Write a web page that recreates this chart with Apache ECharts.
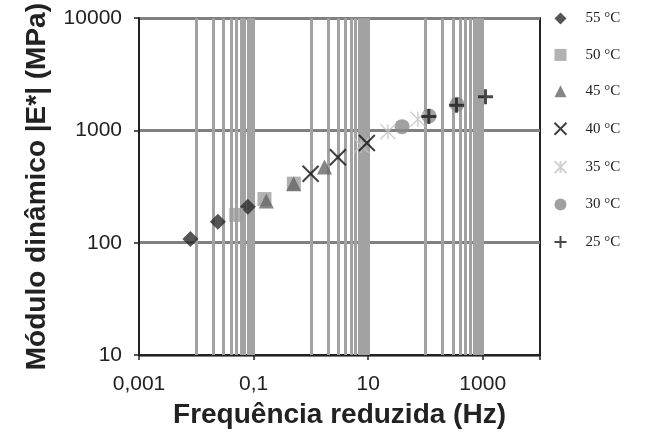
<!DOCTYPE html>
<html>
<head>
<meta charset="utf-8">
<script src="https://cdn.jsdelivr.net/npm/echarts@6/dist/echarts.min.js"></script>
<style>
  html, body { margin: 0; padding: 0; background: #fff; }
  #chart { width: 646px; height: 437px; }
</style>
</head>
<body>
<div id="chart"></div>
<script>
// reduced frequency (Hz) and |E*| (MPa) per test temperature
var names = ['55 °C', '50 °C', '45 °C', '40 °C', '35 °C', '30 °C', '25 °C'];
var freq55 = [0.0079, 0.0238, 0.0794];
var mod55 = [108, 154, 209];
var freq50 = [0.050, 0.155, 0.505];
var mod50 = [177, 245, 336];
var freq45 = [0.167, 0.50, 1.73];
var mod45 = [235, 336, 472];
var freq40 = [0.99, 2.96, 9.49];
var mod40 = [412, 578, 774];
var freq35 = [7.58, 22.1, 73.7];
var mod35 = [734, 976, 1261];
var freq30 = [39.1, 115.6, 356];
var mod30 = [1082, 1346, 1711];
var freq25 = [114.6, 349, 1119];
var mod25 = [1333, 1676, 2000];

// vertical grid lines of the original excel chart
var gridX = [0.01, 0.02, 0.03, 0.04, 0.05, 0.06, 0.07, 0.08, 0.09, 0.1,
             1, 2, 3, 4, 5, 6, 7, 8, 9, 10,
             100, 200, 300, 400, 500, 600, 700, 800, 900, 1000];
var xLabels = {'0.001': '0,001', '0.1': '0,1', '10': '10', '1000': '1000'};

function pairs(xs, ys) {
    var out = [];
    for (var i = 0; i < xs.length; i++) out.push([xs[i], ys[i]]);
    return out;
}

var chart = echarts.init(document.getElementById('chart'));
var font = 'Liberation Sans, Arial, sans-serif';

var option = {
    animation: false,
    textStyle: {fontFamily: font},
    grid: {left: 139, top: 15, width: 401, height: 340, show: true, borderColor: '#222', borderWidth: 2, containLabel: false},
    legend: {
        orient: 'vertical', left: 547, top: 6,
        itemWidth: 12, itemHeight: 12, itemGap: 21.4,
        data: names,
        textStyle: {fontFamily: 'Liberation Serif, Times New Roman, serif', fontSize: 15, color: '#222', padding: [0, 0, 0, 14]}
    },
    xAxis: {
        type: 'log', min: 0.001, max: 10000, interval: 2,
        name: 'Frequência reduzida (Hz)', nameLocation: 'middle', nameGap: 46,
        nameTextStyle: {fontSize: 28, fontWeight: 'bold', color: '#222', fontFamily: font},
        axisLine: {lineStyle: {color: '#222', width: 2}},
        axisTick: {length: 5, lineStyle: {color: '#222', width: 1.5}},
        axisLabel: {
            fontSize: 21, color: '#222', margin: 19,
            formatter: function (v) {
                var k = String(+v.toPrecision(6));
                return xLabels[k] || '';
            }
        },
        splitLine: {show: false}
    },
    yAxis: {
        type: 'log', min: 10, max: 10000,
        name: 'Módulo dinâmico |E*| (MPa)', nameLocation: 'middle', nameGap: 88,
        nameTextStyle: {fontSize: 28, fontWeight: 'bold', color: '#222', fontFamily: font},
        axisLine: {lineStyle: {color: '#222', width: 2}},
        axisTick: {length: 5, lineStyle: {color: '#222', width: 1.5}},
        axisLabel: {
            fontSize: 21, color: '#222', margin: 17,
            formatter: function (v) { return String(Math.round(v)); }
        },
        splitLine: {show: true, lineStyle: {color: '#808080', width: 3}}
    },
    series: [
        {
            type: 'scatter', silent: true, data: [],
            markLine: {
                silent: true, symbol: 'none', z: 1, animation: false,
                label: {show: false},
                lineStyle: {color: '#a2a2a2', width: 3, type: 'solid'},
                data: gridX.map(function (v) { return {xAxis: v}; })
            }
        },
        {name: names[0], type: 'scatter', z: 3, data: pairs(freq55, mod55), symbol: 'diamond', symbolSize: 16, itemStyle: {color: '#2b2b2b'}},
        {name: names[1], type: 'scatter', z: 3, data: pairs(freq50, mod50), symbol: 'rect', symbolSize: 14, itemStyle: {color: '#9f9f9f'}},
        {name: names[2], type: 'scatter', z: 4, data: pairs(freq45, mod45), symbol: 'triangle', symbolSize: 15, itemStyle: {color: '#666'}},
        {name: names[3], type: 'scatter', z: 5, data: pairs(freq40, mod40), symbol: 'path://M0,0L10,10M10,0L0,10', symbolSize: 16,
            itemStyle: {color: 'none', borderColor: '#111', borderWidth: 2}},
        {name: names[4], type: 'scatter', z: 4, data: pairs(freq35, mod35), symbol: 'path://M0,0L10,10M10,0L0,10M5,0L5,10', symbolSize: 15,
            itemStyle: {color: 'none', borderColor: '#c4c4c4', borderWidth: 1.5}},
        {name: names[5], type: 'scatter', z: 3, data: pairs(freq30, mod30), symbol: 'circle', symbolSize: 15, itemStyle: {color: '#8a8a8a'}},
        {name: names[6], type: 'scatter', z: 5, data: pairs(freq25, mod25), symbol: 'path://M5,0L5,10M0,5L10,5', symbolSize: 15,
            itemStyle: {color: 'none', borderColor: '#1a1a1a', borderWidth: 3}}
    ]
};
chart.setOption(option);
</script>
</body>
</html>
